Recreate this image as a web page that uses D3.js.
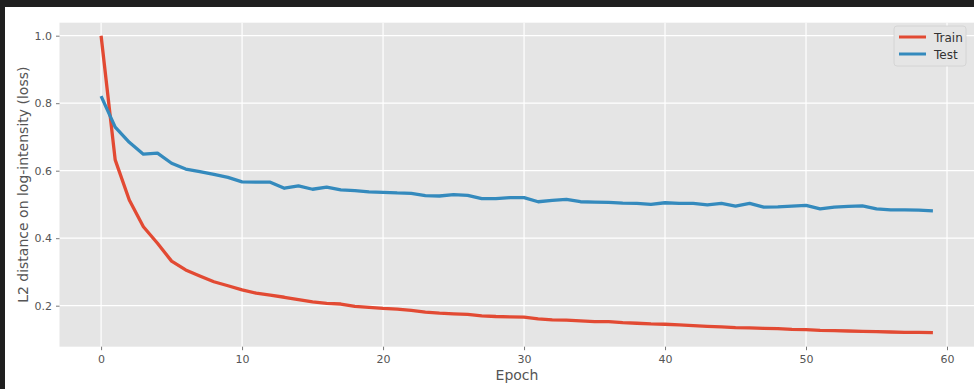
<!DOCTYPE html>
<html>
<head>
<meta charset="utf-8">
<style>
  body { margin: 0; background: #fff; }
  svg text { font-family: "DejaVu Sans", sans-serif; }
</style>
</head>
<body>
<svg width="974" height="389"></svg>
<script src="https://d3js.org/d3.v7.min.js"></script>
<script>
var epochs = d3.range(0, 60);

var train = [1.0, 0.632, 0.513, 0.434, 0.385, 0.332, 0.306, 0.288, 0.271, 0.259,
  0.247, 0.237, 0.231, 0.225, 0.218, 0.211, 0.207, 0.205, 0.198, 0.195,
  0.192, 0.19, 0.186, 0.181, 0.178, 0.176, 0.174, 0.17, 0.168, 0.167,
  0.166, 0.161, 0.158, 0.157, 0.155, 0.153, 0.153, 0.15, 0.148, 0.146,
  0.145, 0.143, 0.141, 0.139, 0.137, 0.135, 0.134, 0.133, 0.132, 0.13,
  0.129, 0.127, 0.126, 0.125, 0.124, 0.123, 0.122, 0.121, 0.121, 0.12];

var test = [0.821, 0.729, 0.684, 0.649, 0.652, 0.622, 0.605, 0.597, 0.589, 0.58,
  0.567, 0.566, 0.566, 0.548, 0.555, 0.545, 0.551, 0.543, 0.541, 0.537,
  0.536, 0.534, 0.533, 0.526, 0.525, 0.529, 0.527, 0.517, 0.517, 0.52,
  0.52, 0.508, 0.512, 0.515, 0.508, 0.507, 0.506, 0.504, 0.503, 0.5,
  0.505, 0.503, 0.503, 0.499, 0.503, 0.495, 0.503, 0.492, 0.493, 0.495,
  0.497, 0.487, 0.492, 0.494, 0.496, 0.487, 0.484, 0.484, 0.483, 0.481];

var xTicks = [0, 10, 20, 30, 40, 50, 60];
var yTicks = [0.2, 0.4, 0.6, 0.8, 1.0];

var svg = d3.select("svg");

// dark frame of the screenshot
svg.append("rect").attr("x", 0).attr("y", 0).attr("width", 974).attr("height", 7).attr("fill", "#1f1f1f");
svg.append("rect").attr("x", 0).attr("y", 0).attr("width", 5).attr("height", 389).attr("fill", "#1f1f1f");

var pLeft = 59.5, pRight = 974.5, pTop = 22.7, pBottom = 346.7;

var x = d3.scaleLinear().domain([-2.95, 61.95]).range([pLeft, pRight]);
var y = d3.scaleLinear().domain([0.0785, 1.0385]).range([pBottom, pTop]);

svg.append("rect")
  .attr("x", pLeft).attr("y", pTop)
  .attr("width", pRight - pLeft).attr("height", pBottom - pTop)
  .attr("fill", "#e5e5e5");

// grid
svg.append("g").selectAll("line").data(xTicks).enter().append("line")
  .attr("x1", d => x(d)).attr("x2", d => x(d))
  .attr("y1", pTop).attr("y2", pBottom)
  .attr("stroke", "#fff").attr("stroke-width", 1.2);
svg.append("g").selectAll("line").data(yTicks).enter().append("line")
  .attr("x1", pLeft).attr("x2", pRight)
  .attr("y1", d => y(d)).attr("y2", d => y(d))
  .attr("stroke", "#fff").attr("stroke-width", 1.2);

// axes
var xAxis = svg.append("g")
  .attr("transform", "translate(0," + pBottom + ")")
  .call(d3.axisBottom(x).tickValues(xTicks).tickSize(3.5).tickPadding(5).tickFormat(d3.format("d")));
var yAxis = svg.append("g")
  .attr("transform", "translate(" + pLeft + ",0)")
  .call(d3.axisLeft(y).tickValues(yTicks).tickSize(3.5).tickPadding(4).tickFormat(d3.format(".1f")));

[xAxis, yAxis].forEach(function (a) {
  a.select(".domain").remove();
  a.selectAll(".tick line").attr("stroke", "#555").attr("stroke-width", 0.8);
  a.selectAll(".tick text").attr("fill", "#555").attr("font-size", 11)
    .style("font-family", "DejaVu Sans, sans-serif");
});

// lines
var line = d3.line().x((d, i) => x(epochs[i])).y(d => y(d));

svg.append("path").datum(train)
  .attr("d", line).attr("fill", "none")
  .attr("stroke", "#E24A33").attr("stroke-width", 3.3).attr("stroke-linejoin", "round");
svg.append("path").datum(test)
  .attr("d", line).attr("fill", "none")
  .attr("stroke", "#348ABD").attr("stroke-width", 3.3).attr("stroke-linejoin", "round");

// labels
svg.append("text")
  .attr("x", 517).attr("y", 380)
  .attr("text-anchor", "middle").attr("font-size", 14).attr("fill", "#555")
  .text("Epoch");
svg.append("text")
  .attr("transform", "translate(28," + ((pTop + pBottom) / 2) + ") rotate(-90)")
  .attr("text-anchor", "middle").attr("font-size", 14).attr("fill", "#555")
  .text("L2 distance on log-intensity (loss)");

// legend
var series = [{name: "Train", color: "#E24A33"}, {name: "Test", color: "#348ABD"}];
var lg = svg.append("g").attr("transform", "translate(894,26)");
lg.append("rect").attr("width", 72).attr("height", 40).attr("rx", 3)
  .attr("fill", "#e5e5e5").attr("stroke", "#d0d0d0").attr("stroke-width", 0.8);
var items = lg.selectAll("g.item").data(series).enter().append("g")
  .attr("transform", (d, i) => "translate(0," + (11 + i * 17) + ")");
items.append("line").attr("x1", 5).attr("x2", 32).attr("y1", 0).attr("y2", 0)
  .attr("stroke", d => d.color).attr("stroke-width", 3);
items.append("text").attr("x", 40).attr("y", 4.5)
  .attr("font-size", 12).attr("fill", "#333").text(d => d.name);
</script>
</body>
</html>
